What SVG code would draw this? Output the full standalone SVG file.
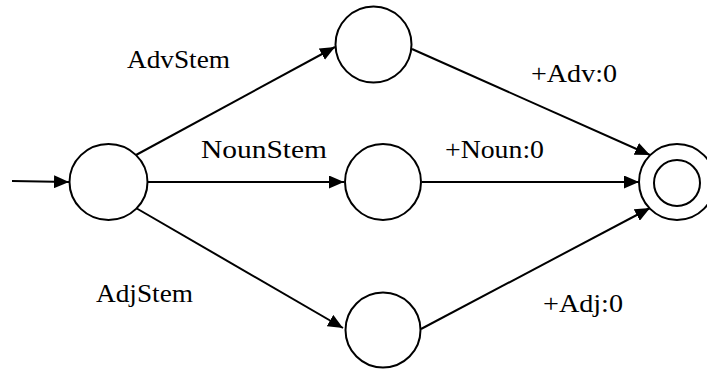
<svg xmlns="http://www.w3.org/2000/svg" width="707" height="369" viewBox="0 0 707 369">
<style>
.st{fill:#fff;stroke:#000;stroke-width:2}
.ln{stroke:#000;stroke-width:2;fill:none;marker-end:url(#ah)}
.lb{font-family:"Liberation Serif","Times New Roman",serif;font-size:25px;fill:#000}
</style>
<defs>
<marker id="ah" markerUnits="userSpaceOnUse" markerWidth="15" markerHeight="13" refX="15" refY="6.5" orient="auto">
<path d="M0,0 L15,6.5 L0,13 z" fill="#000"/>
</marker>
</defs>
<rect width="707" height="369" fill="#fff"/>
<g id="connectors">
<line class="ln" x1="12" y1="181" x2="69" y2="182"/>
<line class="ln" x1="136" y1="155" x2="335" y2="47"/>
<line class="ln" x1="147" y1="182" x2="344" y2="182"/>
<line class="ln" x1="136" y1="208" x2="343" y2="328"/>
<line class="ln" x1="412" y1="49" x2="650" y2="155"/>
<line class="ln" x1="422" y1="182" x2="639" y2="182"/>
<line class="ln" x1="421" y1="329" x2="650" y2="208"/>
</g>
<g id="start"><ellipse class="st" cx="108.5" cy="182" rx="39" ry="38"/></g>
<g id="adv"><circle class="st" cx="373.5" cy="44.5" r="38"/></g>
<g id="noun"><circle class="st" cx="383" cy="182" r="38"/></g>
<g id="adj"><circle class="st" cx="383" cy="330" r="37.5"/></g>
<g id="final">
<circle class="st" cx="677" cy="182" r="38"/>
<circle class="st" cx="677" cy="183" r="23"/>
</g>
<g id="labels">
<text class="lb" x="127" y="68" textLength="103" lengthAdjust="spacingAndGlyphs">AdvStem</text>
<text class="lb" x="201" y="158" textLength="126" lengthAdjust="spacingAndGlyphs">NounStem</text>
<text class="lb" x="96" y="302" textLength="97" lengthAdjust="spacingAndGlyphs">AdjStem</text>
<text class="lb" x="531" y="82" textLength="86" lengthAdjust="spacingAndGlyphs">+Adv:0</text>
<text class="lb" x="445" y="158" textLength="99" lengthAdjust="spacingAndGlyphs">+Noun:0</text>
<text class="lb" x="543" y="312" textLength="80" lengthAdjust="spacingAndGlyphs">+Adj:0</text>
</g>
</svg>
